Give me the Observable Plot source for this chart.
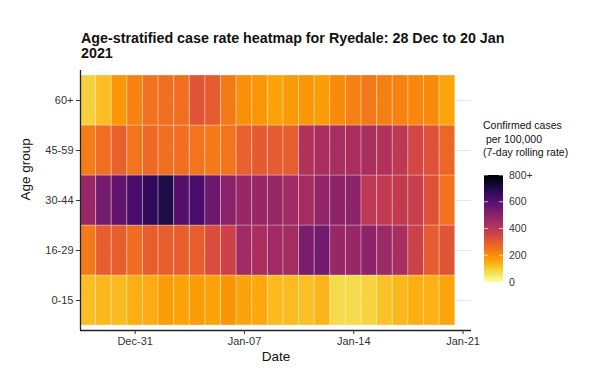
<!DOCTYPE html>
<html>
<head>
<meta charset="utf-8">
<script src="https://cdn.jsdelivr.net/npm/d3@7"></script>
<script src="https://cdn.jsdelivr.net/npm/@observablehq/plot@0.6"></script>
<style>
  html, body { margin: 0; padding: 0; background: #fff; }
  body { width: 589px; height: 372px; overflow: hidden; font-family: "Liberation Sans", Arial, sans-serif; position: relative; }
  #title { position: absolute; left: 81px; top: 31px; font-weight: bold; font-size: 14.3px; line-height: 15px; color: #111; }
  #chart { position: absolute; left: 0; top: 70px; }
  #legend { position: absolute; left: 0; top: 0; }
</style>
</head>
<body>
<div id="title">Age-stratified case rate heatmap for Ryedale: 28 Dec to 20 Jan<br>2021</div>
<div id="chart"></div>
<svg id="legend" width="589" height="372"></svg>
<script>
const ageGroups = ["0-15", "16-29", "30-44", "45-59", "60+"];
const dates = [
  "2020-12-28","2020-12-29","2020-12-30","2020-12-31","2021-01-01","2021-01-02",
  "2021-01-03","2021-01-04","2021-01-05","2021-01-06","2021-01-07","2021-01-08",
  "2021-01-09","2021-01-10","2021-01-11","2021-01-12","2021-01-13","2021-01-14",
  "2021-01-15","2021-01-16","2021-01-17","2021-01-18","2021-01-19","2021-01-20"
];
const rate60plus = [90,120,185,220,250,255,255,310,295,235,195,185,165,180,185,175,205,225,240,225,220,210,205,160];
const rate45to59 = [230,255,285,245,265,255,255,245,235,245,285,300,295,290,420,435,440,435,435,425,395,350,320,270];
const rate30to44 = [470,540,580,625,670,700,605,625,560,500,470,475,470,455,445,480,495,495,395,390,385,375,320,250];
const rate16to29 = [235,290,290,260,290,290,290,290,330,360,455,435,455,450,530,545,475,470,495,465,440,365,295,310];
const rate0to15  = [120,130,128,145,150,175,165,175,165,190,165,155,128,125,120,135,75,75,85,115,130,145,140,160];
const xTicks = ["2020-12-31","2021-01-07","2021-01-14","2021-01-21"];
const legendTicks = [0, 200, 400, 600, 800];
const legendTickLabels = ["0", "200", "400", "600", "800+"];

const series = {"0-15": rate0to15, "16-29": rate16to29, "30-44": rate30to44, "45-59": rate45to59, "60+": rate60plus};
const HALF_DAY = 12 * 3600 * 1000;
const table = [];
for (const age of ageGroups) {
  dates.forEach((d, i) => {
    const t = new Date(d + "T00:00:00Z");
    table.push({age, date: t, rate: series[age][i]});
  });
}

const plot = Plot.plot({
  width: 589,
  height: 302,
  marginLeft: 80,
  marginRight: 118,
  marginTop: 0,
  marginBottom: 42,
  style: {fontFamily: "'Liberation Sans', Arial, sans-serif", background: "white"},
  x: {type: "utc", domain: [new Date("2020-12-27T12:00:00Z"), new Date("2021-01-21T13:00:00Z")]},
  y: {domain: ageGroups.slice().reverse(), paddingInner: 0, paddingOuter: 0.1},
  color: {type: "linear", domain: [0, 800], scheme: "inferno", reverse: true, clamp: true},
  marks: [
    Plot.gridY(ageGroups, {stroke: "#e6e6e6", strokeOpacity: 1, strokeWidth: 1}),
    Plot.barX(table, {
      x1: d => new Date(+d.date - HALF_DAY),
      x2: d => new Date(+d.date + HALF_DAY),
      y: "age",
      fill: "rate",
      stroke: "white",
      strokeOpacity: 0.3,
      strokeWidth: 1
    }),
    Plot.ruleX([new Date("2020-12-27T12:00:00Z")], {stroke: "#222", strokeWidth: 1.3}),
    Plot.ruleY(["0-15"], {dy: 30, stroke: "#222", strokeWidth: 1.3}),
    Plot.axisY({tickSize: 4, tickPadding: 3, fontSize: 11, color: "#333", label: null}),
    Plot.axisX({ticks: xTicks.map(s => new Date(s + "T00:00:00Z")), tickFormat: d3.utcFormat("%b-%d"),
      tickSize: 4, tickPadding: 3, fontSize: 11, color: "#333", label: null}),
    Plot.text(["Age group"], {frameAnchor: "left", dx: -55, rotate: -90, fontSize: 13.5, fill: "#111"}),
    Plot.text(["Date"], {frameAnchor: "bottom", dy: 30, fontSize: 13.5, fill: "#111"})
  ]
});
document.getElementById("chart").appendChild(plot);

// Colour bar legend (same reversed inferno scale as the plot)
const svg = d3.select("#legend");
const barX = 484, barW = 19, barTop = 175, barBottom = 282;
const ly = d3.scaleLinear().domain([0, 800]).range([barBottom, barTop]);
const defs = svg.append("defs");
const grad = defs.append("linearGradient").attr("id", "g").attr("x1", 0).attr("x2", 0).attr("y1", 1).attr("y2", 0);
d3.range(0, 1.0001, 0.05).forEach(t => {
  grad.append("stop").attr("offset", t).attr("stop-color", d3.interpolateInferno(1 - t));
});
svg.append("rect").attr("x", barX).attr("y", barTop).attr("width", barW).attr("height", barBottom - barTop).attr("fill", "url(#g)");
legendTicks.forEach((v, i) => {
  const y = ly(v);
  svg.append("line").attr("x1", barX).attr("x2", barX + 4).attr("y1", y).attr("y2", y).attr("stroke", "white").attr("stroke-opacity", 0.7);
  svg.append("line").attr("x1", barX + barW - 4).attr("x2", barX + barW).attr("y1", y).attr("y2", y).attr("stroke", "white").attr("stroke-opacity", 0.7);
  svg.append("text").attr("x", barX + barW + 6).attr("y", y).attr("dy", "0.35em")
    .attr("font-size", 10.5).attr("fill", "#333").attr("font-family", "'Liberation Sans', Arial, sans-serif")
    .text(legendTickLabels[i]);
});
const legendTitle = ["Confirmed cases", " per 100,000", "(7-day rolling rate)"];
legendTitle.forEach((s, i) => {
  svg.append("text").attr("x", 483).attr("y", 129 + i * 13.5).attr("font-size", 10.5).attr("fill", "#111")
    .attr("xml:space", "preserve").style("white-space", "pre")
    .attr("font-family", "'Liberation Sans', Arial, sans-serif").text(s);
});
</script>
</body>
</html>
